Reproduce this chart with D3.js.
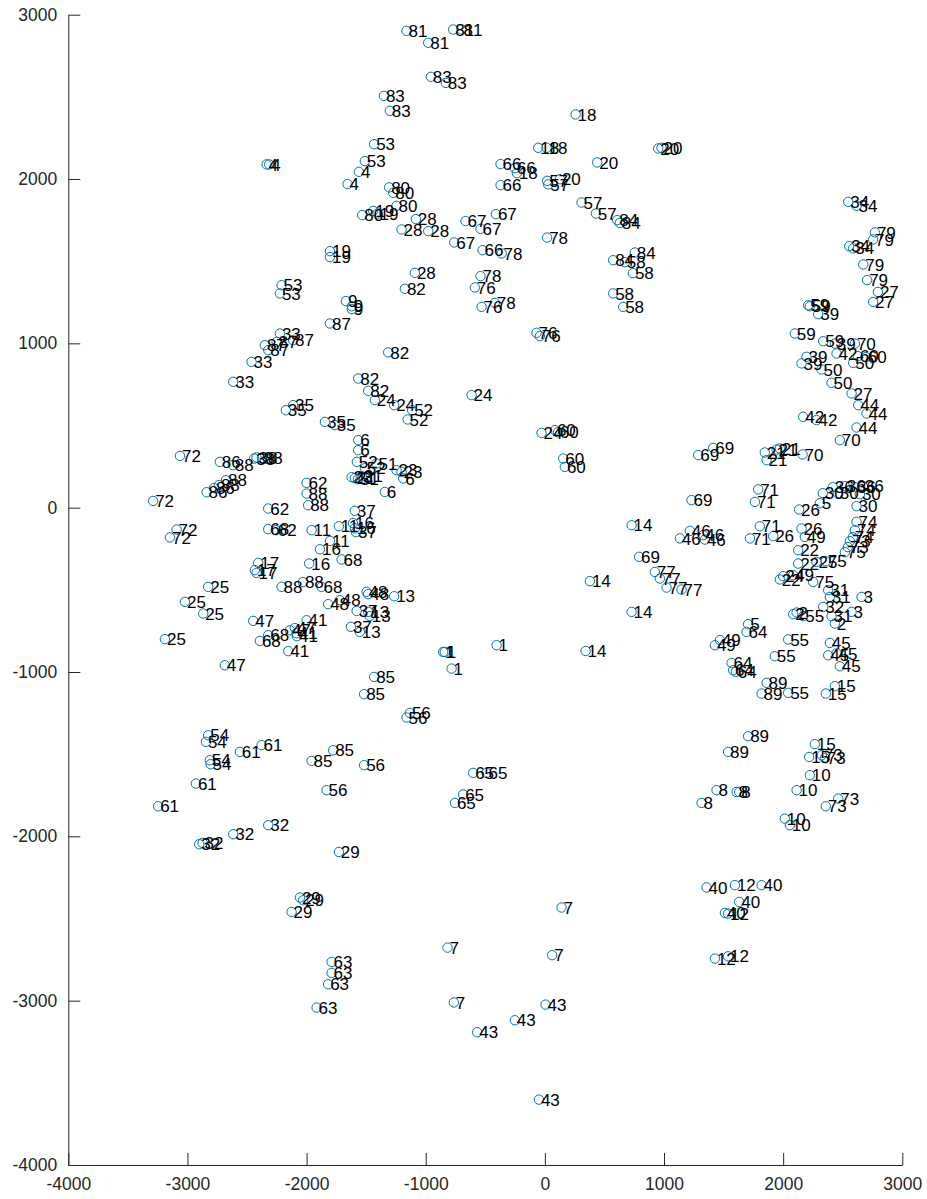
<!DOCTYPE html>
<html lang="en">
<head>
    <meta charset="UTF-8">
    <title>Labelled scatter</title>
    <script src="https://d3js.org/d3.v7.min.js"></script>
    <style>
        body {
            margin: 0;
            background-color: #ffffff;
        }
        svg text {
            font-family: "Liberation Sans", Arial, Helvetica, sans-serif;
        }
        .axis path, .axis line {
            stroke: #262626;
            stroke-width: 1;
        }
        .axis text {
            fill: #262626;
            font-size: 17.5px;
        }
        .pt-label {
            font-size: 17px;
            fill: #000;
        }
    </style>
</head>
<body>
    <div id="chart_div"></div>

    <script>
        // Data: one line per label group
        const pointIds = [
            1, 1, 1, 1,
            2, 2, 2,
            3, 3,
            4, 4, 4, 4,
            5, 5,
            6, 6, 6, 6,
            7, 7, 7, 7,
            8, 8, 8, 8,
            9, 9, 9,
            10, 10, 10, 10,
            11, 11, 11,
            12, 12, 12, 12,
            13, 13, 13, 13,
            14, 14, 14, 14,
            15, 15, 15, 15,
            16, 16, 16, 16,
            17, 17, 17,
            18, 18, 18, 18,
            19, 19, 19, 19,
            20, 20, 20, 20,
            21, 21, 21, 21, 21, 21,
            22, 22, 22,
            23, 23, 23,
            24, 24, 24, 24, 24,
            25, 25, 25, 25, 25,
            26, 26, 26,
            27, 27, 27,
            28, 28, 28, 28,
            29, 29, 29, 29,
            30, 30, 30, 30,
            31, 31, 31,
            32, 32, 32, 32, 32,
            33, 33, 33,
            34, 34, 34, 34,
            35, 35, 35, 35,
            36, 36, 36, 36,
            37, 37, 37, 37,
            38, 38, 38,
            39, 39, 39, 39,
            40, 40, 40, 40,
            41, 41, 41, 41,
            42, 42, 42,
            43, 43, 43, 43,
            44, 44, 44,
            45, 45, 45, 45,
            46, 46, 46, 46,
            47, 47, 47, 47,
            48, 48, 48, 48,
            49, 49, 49, 49,
            50, 50, 50,
            51, 51,
            52, 52, 52, 52,
            53, 53, 53, 53,
            54, 54, 54, 54,
            55, 55, 55, 55,
            56, 56, 56, 56,
            57, 57, 57, 57,
            58, 58, 58, 58,
            59, 59, 59, 59,
            60, 60, 60, 60, 60, 60,
            61, 61, 61, 61,
            62, 62, 62,
            63, 63, 63, 63,
            64, 64, 64, 64,
            65, 65, 65, 65,
            66, 66, 66, 66,
            67, 67, 67, 67,
            68, 68, 68, 68, 68,
            69, 69, 69, 69,
            70, 70, 70,
            71, 71, 71, 71,
            72, 72, 72, 72,
            73, 73, 73, 73, 73, 73,
            74, 74, 74,
            75, 75, 75,
            76, 76, 76, 76,
            77, 77, 77, 77,
            78, 78, 78, 78,
            79, 79, 79, 79,
            80, 80, 80, 80,
            81, 81, 81, 81,
            82, 82, 82, 82,
            83, 83, 83, 83,
            84, 84, 84, 84,
            85, 85, 85, 85,
            86, 86, 86,
            87, 87, 87, 87, 87,
            88, 88, 88, 88, 88, 88, 88,
            89, 89, 89, 89
        ];

        const pointX = [
            -854, -840, -783, -405,
            2084, 2113, 2434,
            2658, 2574,
            -2336, -2314, -1561, -1656,
            2308, 1706,
            -1567, -1567, -1189, -1343,
            140, -817, 61, -764,
            1441, 1609, 1631, 1315,
            -1670, -1620, -1620,
            2224, 2113, 2014, 2056,
            -1958, -1729, -1804,
            1595, 1538, 1427, 1538,
            -1265, -1483, -1469, -1553,
            728, 378, 728, 342,
            2434, 2358, 2266, 2218,
            -1611, -1595, -1888, -1978,
            -2406, -2434, -2420,
            258, -56, 14, -235,
            -1441, -1404, -1804, -1804,
            439, 951, 979, 126,
            1846, 1861, 1945, 1972, -1595, -1536,
            2126, 2126, 1972,
            -1245, -1203, -1622,
            -1427, -1265, -615, -28, 2000,
            -2826, -3021, -2868, -3189, 2280,
            2134, 1916, 2154,
            2795, 2755, 2574,
            -1083, -1203, -979, -1091,
            -2056, -2029, -2126, -1729,
            2333, 2459, 2644, 2616,
            2378, 2406, 2392,
            -2322, -2616, -2901, -2873, 2336,
            -2224, -2462, -2616,
            2546, 2616, 2554, 2588,
            -2174, -2113, -1846, -1763,
            2417, 2518, 2602, 2669,
            -1595, -1586, -1580, -1628,
            -2440, -2420, -2375,
            2294, 2434, 2196, 2154,
            1357, 1819, 1631, 1511,
            -2000, -2084, -2154, -2081,
            2448, 2168, 2280,
            6, -252, -568, -50,
            2630, 2700, 2616,
            2392, 2378, 2448, 2476,
            1217, 1133, 1329, 1343,
            -2448, -2686, -2140, -2098,
            -1496, -1483, -1721, -1819,
            2182, 2084, 1469, 1427,
            2322, 2406, 2588,
            -1413, -1569,
            -1114, -1152, -1578, -1511,
            -1433, -1511, -2210, -2224,
            -2826, -2845, -2812, -2806,
            2168, 2042, 1930, 2042,
            -1133, -1161, -1517, -1832,
            19, 28, 308, 428,
            671, 739, 573, 657,
            2210, 2224, 2098, 2336,
            84, 109, 154, 168, 2627, 2694,
            -2560, -2378, -2929, -3246,
            -2000, -2322, -2258,
            -1790, -1790, -1819, -1916,
            1693, 1567, 1580, 1603,
            -602, -489, -686, -755,
            -372, -252, -372, -523,
            -666, -411, -540, -761,
            -2322, -1706, -1874, -2392, -2322,
            1287, 1413, 1231, 791,
            2163, 2476, 2602,
            1790, 1763, 1804, 1721,
            -3063, -3288, -3091, -3147,
            2560, 2543, 2325, 2350, 2462, 2358,
            2616, 2602, 2585,
            2518, 2252, 2358,
            -70, -42, -531, -588,
            923, 965, 1021, 1147,
            -363, 19, -540, -420,
            2770, 2755, 2672, 2705,
            -1307, -1273, -1245, -1533,
            -1161, -770, -699, -979,
            -1175, -1315, -1567, -1483,
            -957, -831, -1351, -1301,
            607, 629, 755, 573,
            -1433, -1517, -1777, -1958,
            -2728, -2839, -2778,
            -1804, -2350, -2252, -2113, -2322,
            -2619, -2736, -2677, -2000, -1987, -2210, -2031,
            1861, 1819, 1706, 1538
        ];

        const pointY = [
            -878, -878, -979, -837,
            -648, -638, -705,
            -543, -634,
            2089, 2089, 2044, 1969,
            27, -709,
            411, 350, 178, 96,
            -2433, -2677, -2723, -3011,
            -1719, -1730, -1730, -1797,
            1257, 1226, 1208,
            -1628, -1719, -1892, -1932,
            -137, -113, -202,
            -2297, -2470, -2744, -2730,
            -539, -634, -660, -756,
            -107, -447, -634, -872,
            -1086, -1131, -1439, -1517,
            -94, -125, -253, -340,
            -336, -380, -397,
            2393, 2190, 2190, 2036,
            1806, 1790, 1561, 1525,
            2101, 2186, 2190, 1999,
            336, 289, 354, 360, 180, 192,
            -259, -340, -437,
            228, 218, 186,
            654, 624, 685, 455, -417,
            -482, -573, -644, -800, -330,
            -11, -173, -127,
            1313, 1252, 695,
            1756, 1693, 1683, 1429,
            -2372, -2389, -2460, -2095,
            88, 88, 82, 9,
            -502, -660, -543,
            -1932, -1987, -2048, -2040, -604,
            1060, 887, 766,
            1861, 1837, 1591, 1578,
            593, 624, 522, 502,
            125, 131, 125, 131,
            -19, -149, -628, -725,
            299, 306, 301,
            1178, 999, 918, 878,
            -2311, -2297, -2399, -2466,
            -685, -764, -873, -782,
            938, 553, 533,
            -3024, -3119, -3192, -3602,
            624, 573, 488,
            -823, -898, -887, -965,
            -141, -187, -167, -194,
            -689, -959, -746, -733,
            -512, -526, -563, -587,
            -178, -411, -806, -837,
            841, 760, 881,
            269, 173,
            593, 537, 279, 240,
            2212, 2109, 1354, 1304,
            -1385, -1425, -1537, -1561,
            -660, -802, -904, -1127,
            -1249, -1277, -1567, -1719,
            1989, 1967, 1857, 1790,
            1494, 1427, 1304, 1222,
            1232, 1226, 1060, 1013,
            472, 459, 299, 248, 922, 916,
            -1486, -1445, -1679, -1817,
            151, -5, -137,
            -2764, -2831, -2900, -3042,
            -756, -945, -989, -999,
            -1614, -1614, -1745, -1797,
            2091, 2066, 1963, 1567,
            1744, 1786, 1697, 1614,
            -131, -315, -482, -811, -776,
            320, 364, 46, -299,
            324, 411, 999,
            111, 35, -113, -187,
            315, 41, -133, -181,
            -204, -240, -1506, -1525, -1770, -1817,
            -86, -137, -180,
            -271, -452, -326,
            1064, 1044, 1222, 1340,
            -391, -431, -486, -498,
            1547, 1644, 1409, 1246,
            1675, 1632, 1480, 1385,
            1949, 1916, 1837, 1780,
            2902, 2910, 2910, 2829,
            1332, 945, 786, 711,
            2622, 2585, 2506, 2415,
            1750, 1733, 1553, 1506,
            -1030, -1135, -1476, -1541,
            279, 94, 119,
            1121, 989, 1009, 1019, 959,
            259, 137, 167, 86, 15, -482, -453,
            -1066, -1131, -1391, -1486
        ];

        const xTicks = [-4000, -3000, -2000, -1000, 0, 1000, 2000, 3000];
        const yTicks = [-4000, -3000, -2000, -1000, 0, 1000, 2000, 3000];

        const width = 927;
        const height = 1199;
        const margin = { top: 14.7, right: 24.7, bottom: 34, left: 68.3 };

        const svg = d3.select("#chart_div")
            .append("svg")
            .attr("width", width)
            .attr("height", height);

        const x = d3.scaleLinear()
            .domain([-4000, 3000])
            .range([margin.left, width - margin.right]);

        const y = d3.scaleLinear()
            .domain([-4000, 3000])
            .range([height - margin.bottom, margin.top]);

        // Axes, ticks pointing inward
        svg.append("g")
            .attr("class", "axis")
            .attr("transform", `translate(0, ${height - margin.bottom})`)
            .call(d3.axisBottom(x)
                .tickValues(xTicks)
                .tickFormat(d => String(d))
                .tickSizeInner(-12)
                .tickSizeOuter(0)
                .tickPadding(13));

        svg.append("g")
            .attr("class", "axis")
            .attr("transform", `translate(${margin.left}, 0)`)
            .call(d3.axisLeft(y)
                .tickValues(yTicks)
                .tickFormat(d => String(d))
                .tickSizeInner(-12)
                .tickSizeOuter(0)
                .tickPadding(11));

        const points = pointIds.map((id, i) => ({ id: id, x: pointX[i], y: pointY[i] }));

        // Markers
        svg.append("g")
            .selectAll("circle")
            .data(points)
            .join("circle")
            .attr("cx", d => x(d.x))
            .attr("cy", d => y(d.y))
            .attr("r", 4.7)
            .attr("fill", "none")
            .attr("stroke", "#0072BD")
            .attr("stroke-width", 1);

        // Labels next to markers
        svg.append("g")
            .selectAll("text")
            .data(points)
            .join("text")
            .attr("class", "pt-label")
            .attr("x", d => x(d.x) + 2)
            .attr("y", d => y(d.y))
            .attr("dy", "0.36em")
            .text(d => d.id);
    </script>
</body>
</html>
